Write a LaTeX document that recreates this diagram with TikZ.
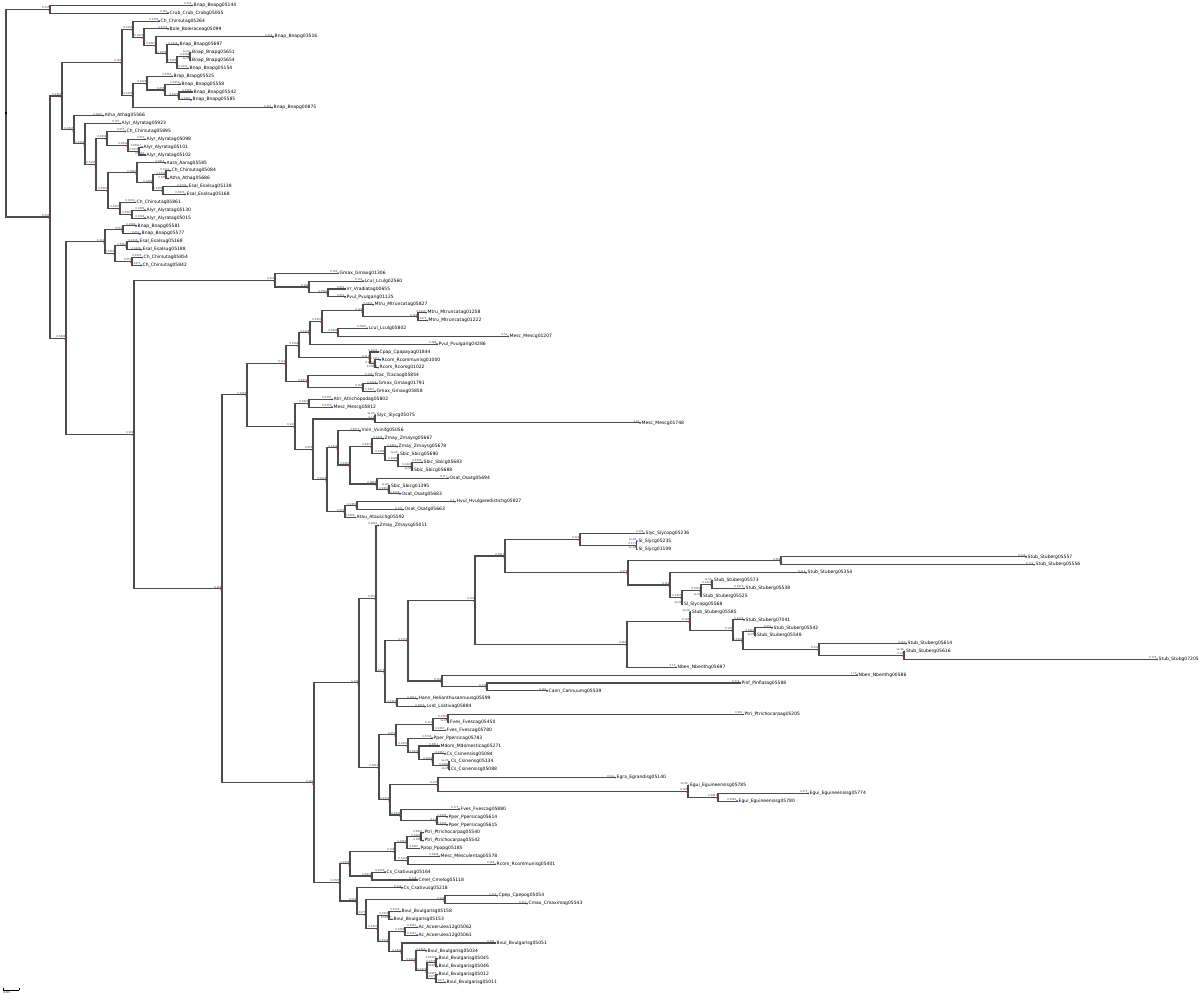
\documentclass[tikz,border=0pt]{standalone}
\usepackage{fontspec}
\setmainfont{DejaVu Sans}
\definecolor{leafblue}{RGB}{0,48,193}
\tikzset{
  br/.style={line width=1.1pt, black!70, line cap=rect},
  leafname/.style={anchor=west, inner sep=0pt, font=\fontsize{4.5}{5}\selectfont},
  blab/.style={anchor=south east, inner sep=0.3pt, font=\fontsize{2.6}{3}\selectfont, black!75},
  supp/.style={anchor=north east, inner sep=0.3pt, font=\fontsize{2.6}{3}\selectfont, red},
}
\newcommand\Fmt[1]{\ifdim#1pt<0.002pt 1e-06\else\pgfmathprintnumber[fixed relative,precision=3,assume math mode=true]{#1}\fi}
\newcommand\Lf[4]{%
  \pgfmathsetmacro\tmpy{5.3+7.88*#2}%
  \coordinate (#1) at (#3,\tmpy);%
  \expandafter\xdef\csname NX#1\endcsname{#3}%
  \expandafter\xdef\csname NY#1\endcsname{\tmpy}%
  \fill[leafblue] (#1) circle[radius=0.95pt];%
  \node[leafname] at ([xshift=1.5pt]#1) {#4};%
}
\newcommand\Br[2]{%
  \draw[br] (#1 |- #2) -- (#2);%
  \edef\cxa{\csname NX#2\endcsname}\edef\cxb{\csname NX#1\endcsname}%
  \pgfmathsetmacro\bl{(\cxa-\cxb)/327}%
  \node[blab] at (#2) {\Fmt{\bl}};%
  \ifcsname NI#2\endcsname\node[supp] at (#2) {1};\fi
}
\newcommand\Nd[4]{%
  \edef\ya{\csname NY#3\endcsname}\edef\yb{\csname NY#4\endcsname}%
  \pgfmathsetmacro\tmpy{(\ya+\yb)/2}%
  \coordinate (#1) at (#2,\tmpy);%
  \expandafter\xdef\csname NX#1\endcsname{#2}%
  \expandafter\xdef\csname NY#1\endcsname{\tmpy}%
  \expandafter\xdef\csname NI#1\endcsname{1}%
  \draw[br] (#1 |- #3) -- (#1 |- #4);%
  \Br{#1}{#3}\Br{#1}{#4}%
}
\begin{document}
\begin{tikzpicture}[x=1pt,y=-1pt]
\useasboundingbox (0,0) rectangle (1200,1000);
\fill[white] (0,0) rectangle (1200,1000);
% ---- clade A
\Lf{l0}{0}{192}{Bnap\_Bnapg05144}
\Lf{l1}{1}{168}{Crub\_Crub\_Crubg05005}
\Nd{nA}{50}{l0}{l1}
% ---- C1
\Lf{l2}{2}{159}{Ch\_Chirsutag05264}
\Lf{l3}{3}{168}{Bole\_Boleraceag05099}
\Lf{l4}{4}{273}{Bnap\_Bnapg03516}
\Lf{l5}{5}{178}{Bnap\_Bnapg05697}
\Lf{l6}{6}{190.5}{Bnap\_Bnapg05651}
\Lf{l7}{7}{190.5}{Bnap\_Bnapg05654}
\Lf{l8}{8}{188}{Bnap\_Bnapg05154}
\Nd{n190}{190}{l6}{l7}
\Nd{n177}{177}{n190}{l8}
\Nd{n167}{167}{l5}{n177}
\Nd{n156}{156}{l4}{n167}
\Nd{n144}{144}{l3}{n156}
\Nd{n133a}{133}{l2}{n144}
\Lf{l9}{9}{172}{Brap\_Brapg05525}
\Lf{l10}{10}{180}{Bnap\_Bnapg05558}
\Lf{l11}{11}{192}{Bnap\_Bnapg05542}
\Lf{l12}{12}{191}{Bnap\_Bnapg05585}
\Lf{l13}{13}{272}{Bnap\_Bnapg00875}
\Nd{n179}{179}{l11}{l12}
\Nd{n165}{165}{l10}{n179}
\Nd{n147}{147}{l9}{n165}
\Nd{n133b}{133}{n147}{l13}
\Nd{nC1}{122}{n133a}{n133b}
% ---- R
\Lf{l14}{14}{103}{Atha\_Athag05566}
\Lf{l15}{15}{120}{Alyr\_Alyratag05923}
\Lf{l16}{16}{125}{Ch\_Chirsutag05895}
\Lf{l17}{17}{145}{Alyr\_Alyratag05098}
\Lf{l18}{18}{142}{Alyr\_Alyratag05101}
\Lf{l19}{19}{145}{Alyr\_Alyratag05102}
\Nd{nU3}{139}{l18}{l19}
\Nd{nU2}{128}{l17}{nU3}
\Nd{nU}{107}{l16}{nU2}
\Lf{l20}{20}{165}{Aara\_Aarag05585}
\Lf{l21}{21}{170}{Ch\_Chirsutag05084}
\Lf{l22}{22}{168}{Atha\_Athag05686}
\Lf{l23}{23}{187}{Esal\_Esalsug05138}
\Lf{l24}{24}{185}{Esal\_Esalsug05168}
\Nd{nW3}{166}{l21}{l22}
\Nd{nW4}{163}{l23}{l24}
\Nd{nW2}{153}{nW3}{nW4}
\Nd{nW}{137}{l20}{nW2}
\Lf{l25}{25}{135}{Ch\_Chirsutag05861}
\Lf{l26}{26}{145}{Alyr\_Alyratag05130}
\Lf{l27}{27}{145}{Alyr\_Alyratag05015}
\Nd{nX2}{132}{l26}{l27}
\Nd{nX}{120}{l25}{nX2}
\Nd{nV}{108}{nW}{nX}
\Nd{nT}{96}{nU}{nV}
\Nd{nS}{85}{l15}{nT}
\Nd{nR}{74}{l14}{nS}
\Nd{nQ}{62}{nC1}{nR}
% ---- Z
\Lf{l28}{28}{136}{Bnap\_Bnapg05581}
\Lf{l29}{29}{140}{Bnap\_Bnapg05577}
\Nd{nZ1}{123}{l28}{l29}
\Lf{l30}{30}{138}{Esal\_Esalsug05168}
\Lf{l31}{31}{141}{Esal\_Esalsug05188}
\Nd{nZ3}{127}{l30}{l31}
\Lf{l32}{32}{142}{Ch\_Chirsutag05854}
\Lf{l33}{33}{141}{Ch\_Chirsutag05842}
\Nd{nZ4}{132}{l32}{l33}
\Nd{nZ2}{115}{nZ3}{nZ4}
\Nd{nZ}{105}{nZ1}{nZ2}
% ---- CC
\Lf{l34}{34}{338}{Gmax\_Gmaxg01306}
\Lf{l35}{35}{363}{Lcul\_Lculg02560}
\Lf{l36}{36}{345}{Vr\_Vradiatag00655}
\Lf{l37}{37}{345}{Pvul\_Pvulgarig01125}
\Nd{nCC3}{328}{l36}{l37}
\Nd{nCC2}{309}{l35}{nCC3}
\Nd{nCC}{275}{l34}{nCC2}
% ---- EE
\Lf{l38}{38}{373}{Mtru\_Mtruncatag05827}
\Lf{l39}{39}{426}{Mtru\_Mtruncatag01258}
\Lf{l40}{40}{427}{Mtru\_Mtruncatag01222}
\Nd{nKK}{418}{l39}{l40}
\Nd{nII}{363}{l38}{nKK}
\Lf{l41}{41}{367}{Lcul\_Lculg05802}
\Lf{l42}{42}{508}{Mesc\_Mescg01207}
\Nd{nJJ}{338}{l41}{l42}
\Nd{nHH}{322}{nII}{nJJ}
\Lf{l43}{43}{437}{Pvul\_Pvulgarig04286}
\Nd{nGG}{310}{nHH}{l43}
\Lf{l44}{44}{378}{Cpap\_Cpapayag01844}
\Lf{l45}{45}{380}{Rcom\_Rcommunisg01000}
\Lf{l46}{46}{378}{Rcom\_Rcomg01022}
\Nd{nQQ2}{375}{l45}{l46}
\Nd{nQQ}{370}{l44}{nQQ2}
\Nd{nMM}{299}{nGG}{nQQ}
\Lf{l47}{47}{373}{Tcac\_Tcacaog05854}
\Lf{l48}{48}{377}{Gmax\_Gmaxg01791}
\Lf{l49}{49}{375}{Gmax\_Gmaxg05858}
\Nd{nRR}{363}{l48}{l49}
\Nd{nPP}{308}{l47}{nRR}
\Nd{nNN}{286}{nMM}{nPP}
\Lf{l50}{50}{332}{Atri\_Atrichopodag05802}
\Lf{l51}{51}{332}{Mesc\_Mescg05812}
\Nd{nSS}{309}{l50}{l51}
\Lf{l52}{52}{375.3}{Slyc\_Slycg05075}
\Lf{l53}{53}{640}{Mesc\_Mescg01748}
\Nd{nUU}{375}{l52}{l53}
\Lf{l54}{54}{360}{Vvin\_Vvinifg05056}
\Lf{l55}{55}{383}{Zmay\_Zmaysg05667}
\Lf{l56}{56}{397}{Zmay\_Zmaysg05678}
\Lf{l57}{57}{398.3}{Sbic\_Sbicg05690}
\Lf{l58}{58}{422}{Sbic\_Sbicg05683}
\Lf{l59}{59}{412.3}{Sbic\_Sbicg05688}
\Nd{nY1c}{412}{l58}{l59}
\Nd{nY1b}{398}{l57}{nY1c}
\Nd{nY1a}{385}{l56}{nY1b}
\Nd{nY1}{372}{l55}{nY1a}
\Lf{l60}{60}{448}{Osat\_Osatg05694}
\Lf{l61}{61}{389.3}{Sbic\_Sbicg01395}
\Lf{l62}{62}{400}{Osat\_Osatg05683}
\Nd{nY2a}{389}{l61}{l62}
\Nd{nY2}{377}{l60}{nY2a}
\Nd{nYY}{350}{nY1}{nY2}
\Nd{nWW}{338}{l54}{nYY}
\Lf{l63}{63}{455}{Hvul\_Hvulgaredistichg05827}
\Lf{l64}{64}{403}{Osat\_Osatg05663}
\Nd{nXXa}{357}{l63}{l64}
\Lf{l65}{65}{355}{Atau\_Atauschg05592}
\Nd{nXX}{345}{nXXa}{l65}
\Nd{nVV}{327}{nWW}{nXX}
\Nd{nTT}{313}{nUU}{nVV}
\Nd{nOO}{295}{nSS}{nTT}
\Nd{nEE}{247}{nNN}{nOO}
% ---- big clade
\Lf{l66}{66}{378}{Zmay\_Zmaysg05011}
\Lf{l67}{67}{644}{Slyc\_Slycopg05236}
\Lf{l68}{68}{636.8}{Sl\_Slycg05235}
\Lf{l69}{69}{636.8}{Sl\_Slycg01109}
\Nd{nA5b}{636.5}{l68}{l69}
\Nd{nA5}{580}{l67}{nA5b}
\Lf{l70}{70}{1026}{Stub\_Stuberg05557}
\Lf{l71}{71}{1034}{Stub\_Stuberg05556}
\Nd{nM5}{781}{l70}{l71}
\Lf{l72}{72}{806}{Stub\_Stuberg05354}
\Lf{l73}{73}{712.3}{Stub\_Stuberg05573}
\Lf{l74}{74}{744}{Stub\_Stuberg05538}
\Nd{nE5a}{712}{l73}{l74}
\Lf{l75}{75}{701.3}{Stub\_Stuberg05525}
\Nd{nE5}{701}{nE5a}{l75}
\Lf{l76}{76}{682.3}{Sl\_Slycopg05568}
\Nd{nD5}{682}{nE5}{l76}
\Nd{nC5}{670}{l72}{nD5}
\Nd{nB5}{628}{nM5}{nC5}
\Nd{nN505}{505}{nA5}{nB5}
\Lf{l77}{77}{690.3}{Stub\_Stuberg05585}
\Lf{l78}{78}{744}{Stub\_Stuberg07041}
\Lf{l79}{79}{772}{Stub\_Stuberg05542}
\Lf{l80}{80}{755.3}{Stub\_Stuberg05548}
\Nd{nJ5}{755}{l79}{l80}
\Lf{l81}{81}{906}{Stub\_Stuberg05614}
\Lf{l82}{82}{904.3}{Stub\_Stuberg05616}
\Lf{l83}{83}{1157}{Stub\_Stubg07205}
\Nd{nL5}{904}{l82}{l83}
\Nd{nK5}{819}{l81}{nL5}
\Nd{nI5}{743}{nJ5}{nK5}
\Nd{nH5}{733}{l78}{nI5}
\Nd{nG5}{690}{l77}{nH5}
\Lf{l84}{84}{676}{Nben\_Nbenthg05697}
\Nd{nF5}{627}{nG5}{l84}
\Nd{nN475}{475}{nN505}{nF5}
\Lf{l85}{85}{857}{Nben\_Nbenthg00586}
\Lf{l86}{86}{740}{Pinf\_Pinflatag05588}
\Lf{l87}{87}{547}{Cann\_Cannuumg05539}
\Nd{nN487}{487}{l86}{l87}
\Nd{nN442}{442}{l85}{nN487}
\Nd{nN408}{408}{nN475}{nN442}
\Lf{l88}{88}{417}{Hann\_Helianthusannuusg05599}
\Lf{l89}{89}{425}{Lsat\_Lsativag05884}
\Nd{nN397}{397}{l88}{l89}
\Nd{nN385}{385}{nN408}{nN397}
\Nd{nAAA}{376}{l66}{nN385}
% ---- BBB
\Lf{l90}{90}{743}{Ptri\_Ptrichocarpag05205}
\Lf{l91}{91}{448.3}{Fves\_Fvescag05450}
\Nd{nN443}{448}{l90}{l91}
\Lf{l92}{92}{445}{Fves\_Fvescag05780}
\Nd{nN433}{433}{nN443}{l92}
\Lf{l93}{93}{432}{Pper\_Ppersicag05783}
\Lf{l94}{94}{439}{Mdom\_Mdomesticag05271}
\Lf{l95}{95}{445}{Cs\_Csinensisg05084}
\Lf{l96}{96}{449.3}{Cs\_Csinensg05134}
\Lf{l97}{97}{449.3}{Cs\_Csinensisg05088}
\Nd{nN442b}{449}{l96}{l97}
\Nd{nN433b}{433}{l95}{nN442b}
\Nd{nN419}{419}{l94}{nN433b}
\Nd{nN408b}{408}{l93}{nN419}
\Nd{nN396}{396}{nN433}{nN408b}
\Lf{l98}{98}{615}{Egra\_Egrandisg05140}
\Lf{l99}{99}{688.3}{Egui\_Eguineensisg05785}
\Lf{l100}{100}{808}{Egui\_Eguineensisg05774}
\Lf{l101}{101}{737}{Egui\_Eguineensisg05780}
\Nd{nN718}{718}{l100}{l101}
\Nd{nN688}{688}{l99}{nN718}
\Nd{nN438}{438}{l98}{nN688}
\Lf{l102}{102}{459}{Fves\_Fvescag05880}
\Lf{l103}{103}{447}{Pper\_Ppersicag05614}
\Lf{l104}{104}{447}{Pper\_Ppersicag05615}
\Nd{nN437}{437}{l103}{l104}
\Nd{nN401}{401}{l102}{nN437}
\Nd{nN390}{390}{nN438}{nN401}
\Nd{nBBB}{379}{nN396}{nN390}
\Nd{nZZ}{359}{nAAA}{nBBB}
% ---- GGG
\Lf{l105}{105}{423}{Ptri\_Ptrichocarpag05540}
\Lf{l106}{106}{423}{Ptri\_Ptrichocarpag05542}
\Nd{nN421}{421}{l105}{l106}
\Lf{l107}{107}{419}{Ppop\_Ppopg05185}
\Nd{nN407}{407}{nN421}{l107}
\Lf{l108}{108}{439}{Mesc\_Mesculentag05578}
\Lf{l109}{109}{495}{Rcom\_Rcommunisg05401}
\Nd{nN408c}{408}{l108}{l109}
\Nd{nN395}{395}{nN407}{nN408c}
\Lf{l110}{110}{385}{Cs\_Csativusg05164}
\Lf{l111}{111}{417}{Cmel\_Cmelog05118}
\Nd{nN372}{372}{l110}{l111}
\Nd{nN350}{350}{nN395}{nN372}
\Lf{l112}{112}{402}{Cs\_Csativusg05218}
\Lf{l113}{113}{497}{Cpep\_Cpepog05054}
\Lf{l114}{114}{527}{Cmax\_Cmaximag05543}
\Nd{nN445}{445}{l113}{l114}
\Lf{l115}{115}{400}{Bvul\_Bvulgarisg05158}
\Lf{l116}{116}{392}{Bvul\_Bvulgarisg05153}
\Nd{nN389a}{389}{l115}{l116}
\Lf{l117}{117}{417}{Ac\_Acoerulea12g05062}
\Lf{l118}{118}{417}{Ac\_Acoerulea12g05061}
\Nd{nN405}{405}{l117}{l118}
\Lf{l119}{119}{495}{Bvul\_Bvulgarisg05051}
\Lf{l120}{120}{426}{Bvul\_Bvulgarisg05034}
\Lf{l121}{121}{437}{Bvul\_Bvulgarisg05045}
\Lf{l122}{122}{437}{Bvul\_Bvulgarisg05046}
\Nd{nN436a}{436}{l121}{l122}
\Lf{l123}{123}{437}{Bvul\_Bvulgarisg05012}
\Lf{l124}{124}{445}{Bvul\_Bvulgarisg05011}
\Nd{nN436b}{436}{l123}{l124}
\Nd{nN427}{427}{nN436a}{nN436b}
\Nd{nN416}{416}{l120}{nN427}
\Nd{nN402}{402}{l119}{nN416}
\Nd{nN389b}{389}{nN405}{nN402}
\Nd{nN378}{378}{nN389a}{nN389b}
\Nd{nN366}{366}{nN445}{nN378}
\Nd{nN357}{357}{l112}{nN366}
\Nd{nGGG}{340}{nN350}{nN357}
% ---- backbone
\Nd{nFF}{314}{nZZ}{nGGG}
\Nd{nDD}{222}{nEE}{nFF}
\Nd{nBB}{134}{nCC}{nDD}
\Nd{nAA}{66}{nZ}{nBB}
\Nd{nB}{50}{nQ}{nAA}
\Nd{root}{6}{nA}{nB}
\fill[black] ([xshift=-1pt,yshift=-1pt]root) rectangle ([xshift=1pt,yshift=1pt]root);
% ---- scale bar
\coordinate (sb1) at (3,990);
\coordinate (sb2) at (19,990);
\draw[black, line width=0.6pt] (sb1) -- (sb2);
\draw[black, line width=0.6pt] (sb1) -- ++(0,-2) (sb2) -- ++(0,-2);
\node[anchor=north west, inner sep=0.3pt, font=\fontsize{3}{3.5}\selectfont] at ([yshift=-1pt]sb1) {0.05};
\end{tikzpicture}
\end{document}
